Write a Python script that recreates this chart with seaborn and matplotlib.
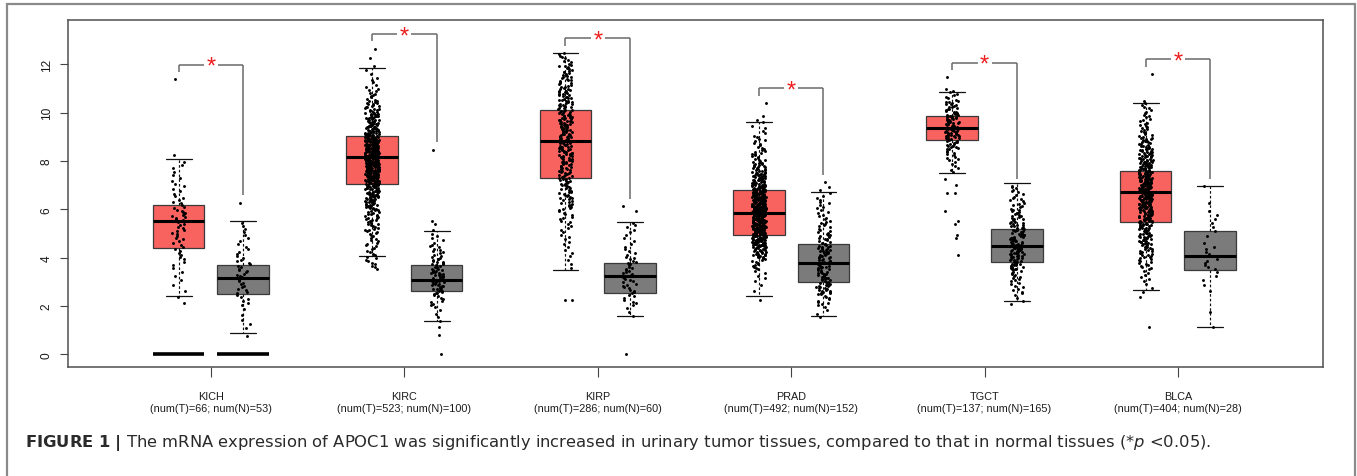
import numpy as np
import pandas as pd
import matplotlib
matplotlib.use("Agg")
import matplotlib.pyplot as plt
from matplotlib.patches import Rectangle
import seaborn as sns

# ---------------- data ----------------
cancers = ["KICH", "KIRC", "KIRP", "PRAD", "TGCT", "BLCA"]
num_tumor = [66, 523, 286, 492, 137, 404]
num_normal = [53, 100, 60, 152, 165, 28]

# box statistics: lower whisker, Q1, median, Q3, upper whisker
tumor_whislo = [2.43, 4.08, 3.49, 2.42, 7.48, 2.67]
tumor_q1 = [4.41, 7.03, 7.28, 4.94, 8.86, 5.49]
tumor_med = [5.53, 8.16, 8.84, 5.85, 9.35, 6.70]
tumor_q3 = [6.16, 9.02, 10.09, 6.79, 9.86, 7.57]
tumor_whishi = [8.09, 11.83, 12.45, 9.59, 10.87, 10.40]

normal_whislo = [0.88, 1.39, 1.59, 1.57, 2.19, 1.13]
normal_q1 = [2.51, 2.61, 2.54, 2.98, 3.80, 3.49]
normal_med = [3.16, 3.09, 3.26, 3.76, 4.46, 4.05]
normal_q3 = [3.71, 3.69, 3.76, 4.57, 5.17, 5.09]
normal_whishi = [5.50, 5.10, 5.47, 6.71, 7.07, 6.96]

# flat (zero) boxes drawn under KICH
flat_box_cancers = ["KICH"]
flat_box_level = 0.0

# jittered sample points: counts per 0.5-wide expression bin (0-13), plus isolated points
bin_width = 0.5
kich_t = [0,0,0,0,2,2,3,4,6,7,8,12,7,5,4,4,1,0,0,0,0,0,0,0,0,0]
kich_n = [0,1,3,2,6,8,11,8,5,4,4,0,0,0,0,0,0,0,0,0,0,0,0,0,0,0]
kirc_t = [0,0,0,0,0,0,0,8,8,10,14,18,30,42,60,75,78,65,45,30,20,10,5,3,0,0]
kirc_n = [0,0,2,4,8,22,25,17,10,6,2,0,0,0,0,0,0,0,0,0,0,0,0,0,0,0]
kirp_t = [0,0,0,0,0,0,0,3,4,5,6,9,14,16,20,22,24,26,28,26,22,20,16,14,9,0]
kirp_n = [0,0,0,3,7,10,12,10,6,4,5,0,0,0,0,0,0,0,0,0,0,0,0,0,0,0]
prad_t = [0,0,0,0,1,2,5,12,35,65,65,75,77,60,38,25,14,9,5,2,0,0,0,0,0,0]
prad_n = [0,0,0,4,10,24,22,22,24,15,11,8,7,4,0,0,0,0,0,0,0,0,0,0,0,0]
tgct_t = [0,0,0,0,0,0,0,0,0,0,0,0,0,0,1,6,10,20,35,30,17,8,0,0,0,0]
tgct_n = [0,0,0,0,4,8,12,26,32,28,20,16,10,9,0,0,0,0,0,0,0,0,0,0,0,0]
blca_t = [0,0,0,0,0,3,6,12,18,26,34,40,46,54,48,38,28,20,12,9,7,0,0,0,0,0]
blca_n = [0,0,0,1,0,2,3,6,5,2,3,3,1,0,0,0,0,0,0,0,0,0,0,0,0,0]

tumor_isolated = [[11.38], [12.25, 12.65], [2.24, 2.26], [10.40, 9.71],
                  [11.46, 6.99, 6.69, 6.66, 5.91, 5.53, 5.41, 4.94, 4.80, 4.11],
                  [11.60, 2.38, 1.12]]
normal_isolated = [[6.27], [8.47, 5.50, 0.81, 0.01], [5.93, 6.13, 0.01], [7.11], [],
                   [1.13, 6.96]]

tumor_counts = [kich_t, kirc_t, kirp_t, prad_t, tgct_t, blca_t]
normal_counts = [kich_n, kirc_n, kirp_n, prad_n, tgct_n, blca_n]

# ---------------- styling ----------------
sns.set_theme(style="white")
plt.rcParams["font.family"] = ["Liberation Sans", "DejaVu Sans"]
plt.rcParams["mathtext.fontset"] = "dejavusans"

W, H = 1357, 477
fig = plt.figure(figsize=(W / 100, H / 100), dpi=100)
fig.patch.set_facecolor("white")
ax = fig.add_axes([68 / W, 1 - 368 / H, (1323 - 68) / W, (368 - 21) / H])

offset = 0.167
box_w = 0.267
tumor_pos = [i - offset for i in range(len(cancers))]
normal_pos = [i + offset for i in range(len(cancers))]


def expand(counts, isolated):
    vals = []
    for i, c in enumerate(counts):
        if c:
            lo = i * bin_width
            vals.extend(lo + (np.arange(c) + 0.5) / c * bin_width)
    vals.extend(isolated)
    return np.asarray(vals, dtype=float)


rows = []
tumor_max, normal_max = [], []
for i, c in enumerate(cancers):
    tv = expand(tumor_counts[i], tumor_isolated[i])
    nv = expand(normal_counts[i], normal_isolated[i])
    tumor_max.append(tv.max())
    normal_max.append(nv.max())
    rows += [(c, "Tumor", tumor_pos[i], v) for v in tv]
    rows += [(c, "Normal", normal_pos[i], v) for v in nv]
df = pd.DataFrame(rows, columns=["cancer", "tissue", "xpos", "value"])


def stats_for(lo, q1, med, q3, hi):
    return [dict(med=m, q1=a, q3=b, whislo=l, whishi=h, fliers=[])
            for l, a, m, b, h in zip(lo, q1, med, q3, hi)]


common = dict(widths=box_w, patch_artist=True, showfliers=False, manage_ticks=False,
              medianprops=dict(color="black", linewidth=2.2),
              whiskerprops=dict(color="#111111", linewidth=0.85, linestyle=(0, (2.2, 1.8))),
              capprops=dict(color="#111111", linewidth=0.9),
              capwidths=box_w / 2, zorder=2)

ax.bxp(stats_for(tumor_whislo, tumor_q1, tumor_med, tumor_q3, tumor_whishi),
       positions=tumor_pos,
       boxprops=dict(facecolor="#F8625F", edgecolor="#3a3a3a", linewidth=0.9), **common)
ax.bxp(stats_for(normal_whislo, normal_q1, normal_med, normal_q3, normal_whishi),
       positions=normal_pos,
       boxprops=dict(facecolor="#7B7B7B", edgecolor="#3a3a3a", linewidth=0.9), **common)

# flat zero boxes
flat_pos = []
for c in flat_box_cancers:
    k = cancers.index(c)
    flat_pos += [tumor_pos[k], normal_pos[k]]
flat_stats = [dict(med=flat_box_level, q1=flat_box_level, q3=flat_box_level,
                   whislo=flat_box_level, whishi=flat_box_level, fliers=[]) for _ in flat_pos]
ax.bxp(flat_stats, positions=flat_pos, widths=box_w, patch_artist=True, showfliers=False,
       manage_ticks=False, showcaps=False,
       boxprops=dict(facecolor="black", edgecolor="black", linewidth=1.2),
       medianprops=dict(color="black", linewidth=2.6), zorder=2)

# jittered points
sns.stripplot(data=df, x="xpos", y="value", native_scale=True, jitter=0.036 / 0.334,
              color="black", size=2.1, linewidth=0, ax=ax, zorder=3)

# significance brackets
for i in range(len(cancers)):
    top = max(tumor_max[i], normal_max[i]) + 0.6
    gap = 0.036
    kw = dict(color="#6a6a6a", linewidth=1.1, zorder=4, solid_capstyle="butt")
    ax.plot([tumor_pos[i], tumor_pos[i]], [tumor_max[i] + 0.3, top], **kw)
    ax.plot([tumor_pos[i], i - gap], [top, top], **kw)
    ax.plot([i + gap, normal_pos[i]], [top, top], **kw)
    ax.plot([normal_pos[i], normal_pos[i]], [normal_max[i] + 0.3, top], **kw)
    ax.annotate("*", xy=(i, top), xytext=(0, -5.8), textcoords="offset points",
                ha="center", va="baseline", color="#EE1D1D", fontsize=17, zorder=5)

# axes
ax.set_xlim(-0.739, 5.75)
ax.set_ylim(-0.525, 13.83)
ax.set_xticks(range(len(cancers)))
ax.set_xticklabels([f"{c}\n(num(T)={t}; num(N)={n})"
                    for c, t, n in zip(cancers, num_tumor, num_normal)],
                   fontsize=7.8, color="#1a1a1a", linespacing=1.25)
yt = list(range(0, 13, 2))
ax.set_yticks(yt)
ax.set_yticklabels([str(v) for v in yt], rotation=90, va="center",
                   fontsize=8.6, color="#1a1a1a")
ax.tick_params(axis="x", length=7, width=0.8, color="#444444", pad=10, direction="out",
               bottom=True)
ax.tick_params(axis="y", length=6, width=0.8, color="#444444", pad=5, direction="out",
               left=True)
ax.set_xlabel("")
ax.set_ylabel("")
for s in ax.spines.values():
    s.set_visible(True)
    s.set_color("#505050")
    s.set_linewidth(1.1)
ax.grid(False)

# outer frame
fig.patches.append(Rectangle((7 / W, -0.05), (1355 - 7) / W, 1.05 - 5 / H,
                             transform=fig.transFigure, fill=False,
                             edgecolor="#8a8a8a", linewidth=1.6))

# caption, fitted to its width in the reference
caption = (r"$\bf{FIGURE\ 1\ |}$ The mRNA expression of APOC1 was significantly increased "
           r"in urinary tumor tissues, compared to that in normal tissues (*$\it{p}$ <0.05).")
cap = fig.text(25 / W, 1 - 443 / H, caption, ha="left", va="center", fontsize=11,
               family="DejaVu Sans", color="#2a2a2a")
fig.canvas.draw()
w = cap.get_window_extent(renderer=fig.canvas.get_renderer()).width
cap.set_fontsize(11 * (1206 - 25) / w)

fig.savefig("out.png", dpi=100, facecolor="white")
